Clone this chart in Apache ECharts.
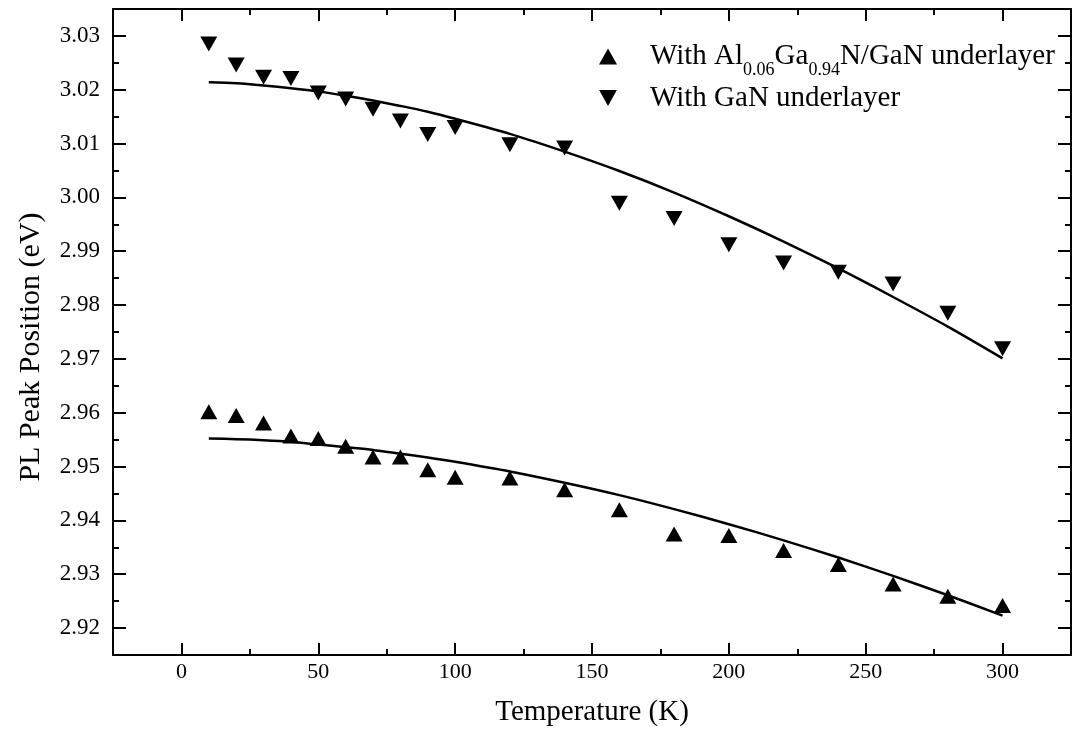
<!DOCTYPE html>
<html>
<head>
<meta charset="utf-8">
<script src="https://cdn.jsdelivr.net/npm/echarts@6/dist/echarts.min.js"></script>
<style>
  html, body { margin: 0; padding: 0; background: #fff; }
  #chart { width: 1076px; height: 745px; }
</style>
</head>
<body>
<div id="chart"></div>
<script>
// ---- data ----
const temps = [10, 20, 30, 40, 50, 60, 70, 80, 90, 100, 120, 140, 160, 180, 200, 220, 240, 260, 280, 300];
const ganPeak = [3.0285, 3.0246, 3.0223, 3.0221, 3.0194, 3.0183, 3.0164, 3.0142, 3.0117, 3.0130,
                 3.0098, 3.0092, 2.9989, 2.9961, 2.9912, 2.9878, 2.9861, 2.9839, 2.9785, 2.9719];
const alganPeak = [2.9602, 2.9595, 2.9581, 2.9557, 2.9552, 2.9538, 2.9518, 2.9518, 2.9494, 2.9480,
                   2.9479, 2.9457, 2.9420, 2.9375, 2.9372, 2.9344, 2.9318, 2.9282, 2.9259, 2.9242];
const ganFit = [3.0214, 3.0212, 3.0208, 3.0203, 3.0197, 3.0189, 3.0180, 3.0170, 3.0159, 3.0146,
                3.0118, 3.0085, 3.0049, 3.0009, 2.9965, 2.9918, 2.9868, 2.9815, 2.9760, 2.9701];
const alganFit = [2.9552, 2.9551, 2.9549, 2.9546, 2.9541, 2.9536, 2.9531, 2.9524, 2.9517, 2.9509,
                  2.9491, 2.9470, 2.9447, 2.9421, 2.9393, 2.9363, 2.9331, 2.9297, 2.9261, 2.9223];
const xMajorTicks = [0, 50, 100, 150, 200, 250, 300];
const xMinorTicks = [25, 75, 125, 175, 225, 275];
const yMajorTicks = [2.92, 2.93, 2.94, 2.95, 2.96, 2.97, 2.98, 2.99, 3.00, 3.01, 3.02, 3.03];
const yMinorTicks = [2.925, 2.935, 2.945, 2.955, 2.965, 2.975, 2.985, 2.995, 3.005, 3.015, 3.025];
const xRange = [-25, 325];
const yRange = [2.915, 3.035];
const nameAlGaN = 'With Al0.06Ga0.94N/GaN underlayer';
const nameGaN = 'With GaN underlayer';

const FONT = "'Liberation Serif', 'Times New Roman', serif";
const DOWN_TRI = 'path://M0,0L10,0L5,9Z';

function pairs(xs, ys) { return xs.map((x, i) => [x, ys[i]]); }

function xAxisDef(position, ticks, len, showLine, labels) {
  return {
    type: 'value', position: position, min: xRange[0], max: xRange[1],
    axisLine: { show: showLine, onZero: false, lineStyle: { color: '#000', width: 2 } },
    axisTick: { show: true, inside: true, length: len, customValues: ticks, lineStyle: { color: '#000', width: 2 } },
    axisLabel: labels ? { show: true, customValues: ticks, margin: 6, color: '#000', fontFamily: FONT, fontSize: 22 } : { show: false },
    splitLine: { show: false },
    name: labels ? 'Temperature (K)' : '',
    nameLocation: 'middle', nameGap: 43,
    nameTextStyle: { color: '#000', fontFamily: FONT, fontSize: 29 }
  };
}
function yAxisDef(position, ticks, len, showLine, labels) {
  return {
    type: 'value', position: position, min: yRange[0], max: yRange[1],
    axisLine: { show: showLine, onZero: false, lineStyle: { color: '#000', width: 2 } },
    axisTick: { show: true, inside: true, length: len, customValues: ticks, lineStyle: { color: '#000', width: 2 } },
    axisLabel: labels ? { show: true, customValues: ticks, margin: 13, color: '#000', fontFamily: FONT, fontSize: 23,
                          formatter: v => v.toFixed(2) } : { show: false },
    splitLine: { show: false },
    name: labels ? 'PL Peak Position (eV)' : '',
    nameLocation: 'middle', nameGap: 67,
    nameTextStyle: { color: '#000', fontFamily: FONT, fontSize: 30, padding: [0, 30, 0, 0] }
  };
}

const chart = echarts.init(document.getElementById('chart'), null, { renderer: 'canvas' });
chart.setOption({
  backgroundColor: '#fff',
  animation: false,
  grid: { left: 113, top: 9, right: 5, bottom: 90, containLabel: false },
  xAxis: [
    xAxisDef('bottom', xMajorTicks, 12, true, true),
    xAxisDef('bottom', xMinorTicks, 6, false, false),
    xAxisDef('top', xMajorTicks, 12, true, false),
    xAxisDef('top', xMinorTicks, 6, false, false)
  ],
  yAxis: [
    yAxisDef('left', yMajorTicks, 13, true, true),
    yAxisDef('left', yMinorTicks, 6, false, false),
    yAxisDef('right', yMajorTicks, 13, true, false),
    yAxisDef('right', yMinorTicks, 6, false, false)
  ],
  legend: {
    orient: 'vertical', left: 599, top: 42, padding: 0, itemGap: 4,
    itemWidth: 18, itemHeight: 16,
    data: [{ name: nameAlGaN, icon: 'triangle' }, { name: nameGaN, icon: DOWN_TRI }],
    itemStyle: { opacity: 1 },
    formatter: function (name) {
      if (name === nameAlGaN) return '{t|With Al}{s|0.06}{t|Ga}{s|0.94}{t|N/GaN underlayer}';
      return '{t|' + name + '}';
    },
    textStyle: {
      color: '#000', fontFamily: FONT, fontSize: 29, padding: [0, 0, 0, 28],
      rich: {
        t: { color: '#000', fontFamily: FONT, fontSize: 29 },
        s: { color: '#000', fontFamily: FONT, fontSize: 18, padding: [28, 0, 0, 0] }
      }
    }
  },
  series: [
    { name: nameAlGaN, type: 'scatter', xAxisIndex: 0, yAxisIndex: 0, symbol: 'triangle', symbolSize: [17, 15],
      itemStyle: { color: '#000', opacity: 1 }, data: pairs(temps, alganPeak), z: 3 },
    { name: nameGaN, type: 'scatter', xAxisIndex: 0, yAxisIndex: 0, symbol: DOWN_TRI, symbolSize: [17, 15],
      itemStyle: { color: '#000', opacity: 1 }, data: pairs(temps, ganPeak), z: 3 },
    { name: 'fitAlGaN', type: 'line', xAxisIndex: 0, yAxisIndex: 0, showSymbol: false, smooth: 0.3,
      lineStyle: { color: '#000', width: 2.5 }, data: pairs(temps, alganFit), z: 2 },
    { name: 'fitGaN', type: 'line', xAxisIndex: 0, yAxisIndex: 0, showSymbol: false, smooth: 0.3,
      lineStyle: { color: '#000', width: 2.5 }, data: pairs(temps, ganFit), z: 2 }
  ]
});
</script>
</body>
</html>
